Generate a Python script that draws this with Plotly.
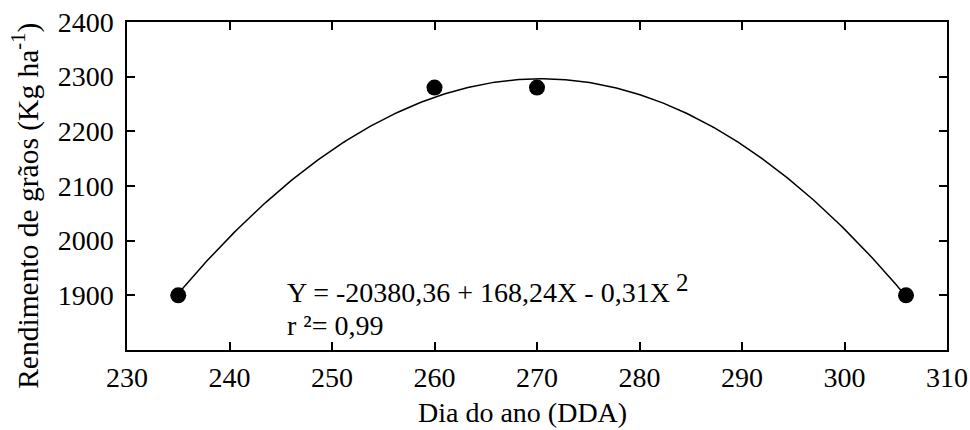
import numpy as np
import plotly.graph_objects as go

# Observed yield by day of year
dia = [235, 260, 270, 306]
rendimento = [1900, 2280, 2280, 1900]

x_ticks = [230, 240, 250, 260, 270, 280, 290, 300, 310]
y_ticks = [1900, 2000, 2100, 2200, 2300, 2400]

titulo_x = "Dia do ano (DDA)"
titulo_y = "Rendimento de grãos (Kg ha<sup>-1</sup>)"
equacao = "Y = -20380,36 + 168,24X - 0,31X"
expoente = "2"
r2_texto = "r \u00b2= 0,99"

# Quadratic regression of the observed points
coef = np.polyfit(dia, rendimento, 2)
xc = np.linspace(min(dia), max(dia), 300)
yc = np.polyval(coef, xc)

FONT = "Liberation Serif"
SIZE = 28

fig = go.Figure()
fig.add_trace(go.Scatter(x=xc, y=yc, mode="lines",
                         line=dict(color="black", width=1.5),
                         hoverinfo="skip", showlegend=False))
fig.add_trace(go.Scatter(x=dia, y=rendimento, mode="markers",
                         marker=dict(color="black", size=16, symbol="circle"),
                         showlegend=False))

def note(text, x, y, size=SIZE, xanchor="left", angle=0):
    fig.add_annotation(x=x, y=y, xref="paper", yref="paper", text=text,
                       showarrow=False, xanchor=xanchor, yanchor="middle",
                       textangle=angle, borderpad=0,
                       font=dict(family=FONT, size=size, color="black"))

# Regression equation and coefficient of determination
note(equacao, 0.194, 0.175)
note(expoente, 0.668, 0.205, size=25)
note(r2_texto, 0.194, 0.075)

# Axis titles
note(titulo_x, 0.4825, -0.192, xanchor="center")
note(titulo_y, -0.123, 0.44, size=29.5, xanchor="center", angle=-90)

axis_common = dict(showgrid=False, zeroline=False, showline=True, mirror="ticks",
                   linecolor="black", linewidth=1.5, ticks="inside", ticklen=8,
                   tickwidth=1.5, tickcolor="black", automargin=False,
                   tickfont=dict(family=FONT, size=SIZE, color="black"))

fig.update_xaxes(range=[230, 310], tickvals=x_ticks, ticklabelstandoff=2, **axis_common)
fig.update_yaxes(range=[1800, 2400], tickvals=y_ticks, ticklabelstandoff=6, **axis_common)

fig.update_layout(width=970, height=430, margin=dict(l=127, r=23, t=22, b=80),
                  template="simple_white", plot_bgcolor="white", paper_bgcolor="white",
                  showlegend=False)

fig.write_html("out.html")
